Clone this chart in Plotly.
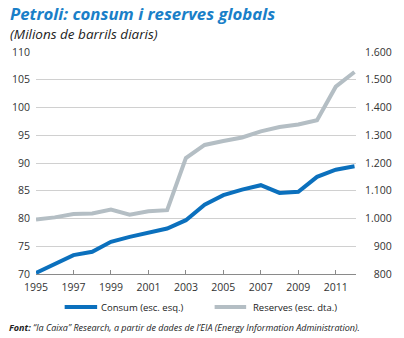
import plotly.graph_objects as go

years = list(range(1995, 2013))
consum = [70.2, 71.8, 73.4, 74.0, 75.8, 76.7, 77.5, 78.2, 79.7, 82.5,
          84.2, 85.2, 86.0, 84.6, 84.8, 87.5, 88.8, 89.4]
reserves = [996, 1004, 1016, 1018, 1032, 1014, 1026, 1030, 1218, 1265,
            1279, 1292, 1314, 1330, 1339, 1354, 1475, 1528]
left_ticks = [70, 75, 80, 85, 90, 95, 100, 105, 110]
right_ticks = [800, 900, 1000, 1100, 1200, 1300, 1400, 1500, 1600]
right_labels = ["\u2007\u2008800", "\u2007\u2008900", "1.000", "1.100", "1.200",
                "1.300", "1.400", "1.500", "1.600"]
x_ticks = list(range(1995, 2012, 2))

BLUE = "#0b70bd"
GRAY = "#b4bec4"
FONT = "Open Sans"
TICKFONT = dict(family=FONT, size=10.5, color="#333333")

fig = go.Figure()
fig.add_trace(go.Scatter(x=years, y=consum, mode="lines", name="Consum (esc. esq.)",
                         line=dict(color=BLUE, width=4), yaxis="y"))
fig.add_trace(go.Scatter(x=years, y=reserves, mode="lines", name="Reserves (esc. dta.)",
                         line=dict(color=GRAY, width=4), yaxis="y2"))

fig.update_layout(
    width=404, height=338,
    margin=dict(l=33, r=36, t=52, b=64),
    paper_bgcolor="white", plot_bgcolor="white",
    showlegend=False,
    font=dict(family=FONT, size=11, color="#333333"),
    xaxis=dict(range=[1995, 2012.08], tickvals=x_ticks, ticktext=[str(t) for t in x_ticks],
               showgrid=False, zeroline=False, showline=True, linecolor="#8a8a8a", linewidth=1,
               ticks="inside", ticklen=4, tickcolor="#8a8a8a", ticklabelstandoff=3,
               tickfont=TICKFONT),
    yaxis=dict(range=[70, 110], tickvals=left_ticks, ticktext=[str(t) for t in left_ticks],
               showgrid=True, gridcolor="#d0d0d0", gridwidth=1, zeroline=False, showline=False,
               ticks="outside", ticklen=3, tickcolor="rgba(0,0,0,0)", tickfont=TICKFONT),
    yaxis2=dict(range=[800, 1600], tickvals=right_ticks, ticktext=right_labels,
                overlaying="y", side="right", showgrid=False, zeroline=False, showline=False,
                ticks="outside", ticklen=6, tickcolor="rgba(0,0,0,0)", tickfont=TICKFONT),
)

W, L, T, H = 335, 33, 52, 222
def px(x):
    return (x - L) / W
def py(y):
    return 1 - (y - T) / H

annotations = [
    dict(text="<b><i>Petroli: consum i reserves globals</i></b>", x=5, y=13,
         font=dict(family=FONT, size=16.8, color="#1a7fc8")),
    dict(text="<i>(Milions de barrils diaris)</i>", x=5, y=34,
         font=dict(family=FONT, size=13.5, color="#222222")),
    dict(text="Consum (esc. esq.)", x=100, y=307,
         font=dict(family=FONT, size=9.5, color="#1a1a1a")),
    dict(text="Reserves (esc. dta.)", x=259, y=307,
         font=dict(family=FONT, size=9.5, color="#1a1a1a")),
    dict(text="<b><i>Font:</i></b><i> “la Caixa” Research, a partir de dades de l’EIA (Energy Information Administration).</i>",
         x=4, y=327, font=dict(family=FONT, size=9, color="#222222")),
]
for a in annotations:
    fig.add_annotation(xref="paper", yref="paper", x=px(a["x"]), y=py(a["y"]),
                       text=a["text"], showarrow=False, xanchor="left", yanchor="middle",
                       font=a["font"], borderpad=0)

fig.add_shape(type="line", xref="paper", yref="paper", x0=px(63), x1=px(97), y0=py(307), y1=py(307),
              line=dict(color=BLUE, width=4))
fig.add_shape(type="line", xref="paper", yref="paper", x0=px(220), x1=px(253), y0=py(307), y1=py(307),
              line=dict(color=GRAY, width=4))

fig.write_html("out.html")
